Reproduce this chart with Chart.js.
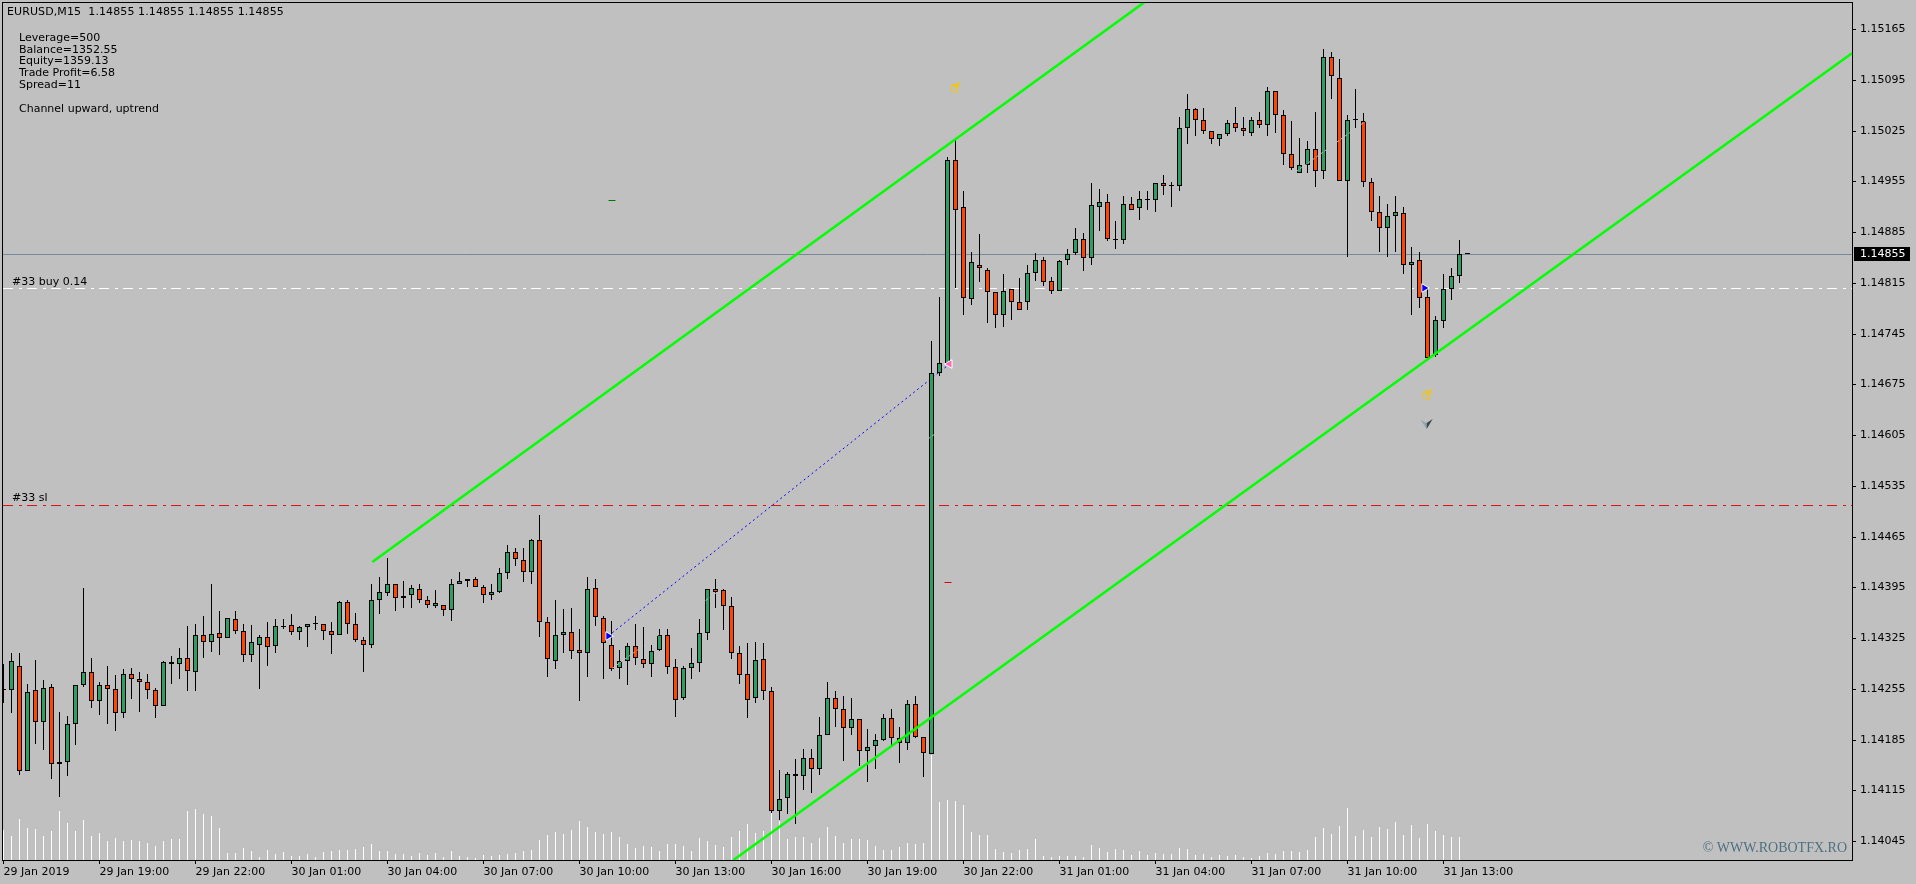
<!DOCTYPE html>
<html>
<head>
<meta charset="utf-8">
<title>EURUSD,M15</title>
<script src="https://cdn.jsdelivr.net/npm/chart.js@4"></script>
<style>
  html, body { margin: 0; padding: 0; background: #c0c0c0; overflow: hidden; }
  canvas { display: block; }
</style>
</head>
<body>
<canvas id="mt4" width="1916" height="884"></canvas>
<script>
// EURUSD M15 candles

const opens = [
1.14253,1.14253,1.14287,1.14142,1.14253,1.14209,1.14257,1.14151,1.14154,1.14207,
1.14260,1.14278,1.14238,1.14260,1.14254,1.14221,1.14275,1.14269,1.14264,1.14253,
1.14231,1.14292,1.14289,1.14297,1.14278,1.14329,1.14319,1.14332,1.14325,1.14351,
1.14334,1.14301,1.14315,1.14326,1.14314,1.14340,1.14343,1.14333,1.14340,1.14344,
1.14344,1.14334,1.14329,1.14374,1.14344,1.14322,1.14315,1.14377,1.14387,1.14399,
1.14380,1.14384,1.14392,1.14378,1.14369,1.14370,1.14363,1.14399,1.14403,1.14406,
1.14396,1.14384,1.14389,1.14414,1.14443,1.14432,1.14416,1.14460,1.14347,1.14293,
1.14329,1.14333,1.14309,1.14305,1.14394,1.14352,1.14316,1.14283,1.14293,1.14314,
1.14296,1.14289,1.14308,1.14329,1.14285,1.14242,1.14283,1.14290,1.14332,1.14392,
1.14391,1.14369,1.14304,1.14275,1.14242,1.14296,1.14252,1.14086,1.14105,1.14138,
1.14134,1.14159,1.14144,1.14191,1.14242,1.14227,1.14201,1.14213,1.14169,1.14176,
1.14185,1.14215,1.14187,1.14180,1.14234,1.14188,1.14165,1.14690,1.14704,1.14985,
1.14919,1.14792,1.14840,1.14832,1.14802,1.14771,1.14806,1.14788,1.14788,1.14828,
1.14847,1.14817,1.14803,1.14846,1.14856,1.14875,1.14849,1.14920,1.14927,1.14876,
1.14874,1.14923,1.14918,1.14931,1.14929,1.14952,1.14948,1.14948,1.15028,1.15054,
1.15039,1.15024,1.15013,1.15020,1.15035,1.15029,1.15022,1.15039,1.15032,1.15079,
1.15047,1.14992,1.14966,1.14978,1.14999,1.14969,1.15127,1.15098,1.14955,1.15039,
1.15038,1.14954,1.14912,1.14891,1.14907,1.14911,1.14839,1.14846,1.14796,1.14715,
1.14762,1.14807,1.14824,1.14855];

const highs = [
1.14289,1.14304,1.14304,1.14261,1.14294,1.14267,1.14261,1.14223,1.14218,1.14260,
1.14394,1.14298,1.14264,1.14286,1.14274,1.14282,1.14283,1.14278,1.14276,1.14256,
1.14293,1.14300,1.14311,1.14341,1.14344,1.14355,1.14399,1.14362,1.14352,1.14362,
1.14344,1.14343,1.14329,1.14347,1.14351,1.14351,1.14358,1.14341,1.14345,1.14355,
1.14345,1.14347,1.14376,1.14378,1.14360,1.14327,1.14399,1.14409,1.14435,1.14399,
1.14403,1.14398,1.14399,1.14383,1.14391,1.14370,1.14407,1.14416,1.14407,1.14409,
1.14398,1.14399,1.14421,1.14453,1.14449,1.14449,1.14461,1.14494,1.14354,1.14377,
1.14365,1.14366,1.14337,1.14409,1.14406,1.14355,1.14348,1.14309,1.14318,1.14344,
1.14340,1.14315,1.14337,1.14337,1.14296,1.14287,1.14311,1.14351,1.14392,1.14406,
1.14392,1.14381,1.14314,1.14318,1.14319,1.14318,1.14258,1.14143,1.14140,1.14158,
1.14172,1.14172,1.14216,1.14264,1.14252,1.14245,1.14242,1.14213,1.14199,1.14192,
1.14220,1.14227,1.14202,1.14239,1.14245,1.14189,1.14734,1.14796,1.14988,1.15014,
1.14941,1.14857,1.14882,1.14835,1.14802,1.14827,1.14807,1.14821,1.14839,1.14856,
1.14851,1.14823,1.14846,1.14861,1.14890,1.14883,1.14952,1.14944,1.14938,1.14900,
1.14934,1.14933,1.14941,1.14941,1.14952,1.14963,1.14954,1.15043,1.15076,1.15056,
1.15056,1.15025,1.15020,1.15039,1.15058,1.15043,1.15043,1.15050,1.15085,1.15079,
1.15053,1.15038,1.15014,1.15010,1.15050,1.15138,1.15134,1.15123,1.15047,1.15082,
1.15049,1.14959,1.14934,1.14923,1.14934,1.14920,1.14865,1.14857,1.14807,1.14769,
1.14827,1.14835,1.14874,1.14855];

const lows = [
1.14236,1.14222,1.14136,1.14142,1.14179,1.14171,1.14131,1.14106,1.14135,1.14178,
1.14258,1.14229,1.14219,1.14207,1.14197,1.14215,1.14241,1.14223,1.14241,1.14215,
1.14231,1.14262,1.14269,1.14252,1.14252,1.14297,1.14306,1.14301,1.14325,1.14330,
1.14292,1.14292,1.14254,1.14287,1.14304,1.14338,1.14329,1.14322,1.14312,1.14336,
1.14322,1.14303,1.14329,1.14330,1.14319,1.14278,1.14311,1.14358,1.14383,1.14362,
1.14366,1.14367,1.14373,1.14367,1.14367,1.14356,1.14349,1.14399,1.14395,1.14395,
1.14373,1.14378,1.14387,1.14406,1.14424,1.14402,1.14400,1.14327,1.14271,1.14282,
1.14304,1.14296,1.14238,1.14271,1.14341,1.14268,1.14280,1.14268,1.14260,1.14288,
1.14283,1.14271,1.14307,1.14275,1.14216,1.14239,1.14268,1.14278,1.14322,1.14367,
1.14336,1.14296,1.14261,1.14214,1.14236,1.14239,1.14083,1.14074,1.14082,1.14069,
1.14116,1.14111,1.14136,1.14191,1.14202,1.14155,1.14191,1.14148,1.14126,1.14145,
1.14183,1.14178,1.14152,1.14170,1.14187,1.14133,1.14165,1.14686,1.14703,1.14808,
1.14770,1.14784,1.14816,1.14759,1.14752,1.14754,1.14764,1.14777,1.14777,1.14817,
1.14810,1.14799,1.14803,1.14839,1.14853,1.14831,1.14839,1.14886,1.14872,1.14861,
1.14868,1.14915,1.14901,1.14916,1.14912,1.14936,1.14919,1.14941,1.15006,1.15017,
1.15020,1.15006,1.15003,1.15017,1.15023,1.15017,1.15017,1.15028,1.15017,1.15022,
1.14977,1.14970,1.14966,1.14967,1.14947,1.14958,1.15068,1.14955,1.14850,1.15028,
1.14947,1.14900,1.14858,1.14851,1.14858,1.14827,1.14770,1.14780,1.14711,1.14712,
1.14752,1.14791,1.14814,1.14855];

const closes = [
1.14253,1.14293,1.14142,1.14250,1.14209,1.14256,1.14151,1.14154,1.14207,1.14260,
1.14278,1.14238,1.14260,1.14254,1.14222,1.14275,1.14268,1.14265,1.14253,1.14231,
1.14292,1.14289,1.14297,1.14279,1.14329,1.14319,1.14330,1.14325,1.14352,1.14334,
1.14301,1.14319,1.14327,1.14312,1.14341,1.14341,1.14333,1.14340,1.14344,1.14344,
1.14334,1.14329,1.14374,1.14344,1.14322,1.14315,1.14377,1.14388,1.14399,1.14380,
1.14383,1.14394,1.14378,1.14370,1.14373,1.14363,1.14399,1.14403,1.14406,1.14396,
1.14384,1.14389,1.14414,1.14443,1.14434,1.14416,1.14460,1.14347,1.14296,1.14329,
1.14333,1.14307,1.14304,1.14392,1.14354,1.14318,1.14282,1.14293,1.14314,1.14298,
1.14289,1.14307,1.14329,1.14285,1.14240,1.14283,1.14290,1.14332,1.14392,1.14389,
1.14369,1.14305,1.14274,1.14239,1.14294,1.14252,1.14086,1.14103,1.14137,1.14134,
1.14159,1.14144,1.14191,1.14242,1.14227,1.14201,1.14213,1.14169,1.14174,1.14185,
1.14215,1.14187,1.14180,1.14234,1.14189,1.14166,1.14690,1.14704,1.14985,1.14916,
1.14794,1.14843,1.14835,1.14802,1.14771,1.14803,1.14788,1.14778,1.14828,1.14847,
1.14816,1.14803,1.14845,1.14854,1.14875,1.14849,1.14922,1.14927,1.14876,1.14874,
1.14923,1.14916,1.14930,1.14929,1.14952,1.14948,1.14948,1.15028,1.15054,1.15039,
1.15024,1.15013,1.15020,1.15035,1.15029,1.15024,1.15039,1.15032,1.15079,1.15046,
1.14992,1.14973,1.14977,1.14999,1.14969,1.15127,1.15100,1.14955,1.15039,1.15039,
1.14954,1.14912,1.14891,1.14907,1.14912,1.14839,1.14843,1.14794,1.14711,1.14763,
1.14807,1.14824,1.14854,1.14855];

const volumes = [
30,24,41,32,31,24,29,49,37,29,40,24,27,19,22,19,20,19,17,14,
19,21,21,49,51,46,44,32,7,7,12,9,3,10,6,8,4,4,6,3,
8,9,10,10,11,13,16,9,9,6,6,4,7,5,7,3,9,4,3,2,
5,4,5,6,7,9,10,20,25,28,26,30,39,33,28,26,28,23,16,12,
14,13,9,16,16,14,9,22,19,15,13,23,29,36,27,29,47,39,21,23,
23,17,22,33,24,17,21,21,20,14,10,10,13,17,16,17,105,58,60,59,
55,28,25,25,11,8,7,10,11,21,4,3,4,4,4,3,15,12,8,11,
10,5,9,5,7,6,6,12,11,5,6,3,5,4,5,3,2,4,7,6,
9,9,8,10,23,32,26,34,52,24,30,23,33,31,38,25,35,22,36,29,
25,23,23,0];

const timeTickBars = [0,12,24,36,48,60,72,84,96,108,120,132,144,156,168,180];
const timeLabels = ['29 Jan 2019','29 Jan 19:00','29 Jan 22:00','30 Jan 01:00','30 Jan 04:00','30 Jan 07:00',
  '30 Jan 10:00','30 Jan 13:00','30 Jan 16:00','30 Jan 19:00','30 Jan 22:00','31 Jan 01:00',
  '31 Jan 04:00','31 Jan 07:00','31 Jan 10:00','31 Jan 13:00'];
const priceTicks = [1.15165,1.15095,1.15025,1.14955,1.14885,1.14815,1.14745,1.14675,1.14605,
  1.14535,1.14465,1.14395,1.14325,1.14255,1.14185,1.14115,1.14045];

const bidPrice = 1.14855;
const buyPrice = 1.14808;
const slPrice = 1.14509;

// channel lines, [bar, price] ends
const upperChannelX = [46.1, 143], upperChannelY = [1.14430, 1.15205];
const lowerChannelX = [91.25, 231.1], lowerChannelY = [1.14019, 1.15132];
const midChannelX = [74.6, 174.6], midChannelY = [1.14271, 1.15073];
const tradeLineX = [75.6, 118.25], tradeLineY = [1.14328, 1.14703];

const infoLines = ['Leverage=500','Balance=1352.55','Equity=1359.13','Trade Profit=6.58','Spread=11'];

const BULL = '#2e9f64', BEAR = '#ff4500';
const UI_FONT = '11px "DejaVu Sans"';

// round every price to a whole pixel, like the terminal does
class PixelLinearScale extends Chart.LinearScale {
    getPixelForValue(value) {
        return Math.round(super.getPixelForValue(value));
    }
}
PixelLinearScale.id = 'pixellinear';
PixelLinearScale.defaults = Chart.LinearScale.defaults;
Chart.register(PixelLinearScale);

function hline(ctx, chart, price, color, dash) {
    const y = chart.scales.y.getPixelForValue(price) + 0.5;
    ctx.save();
    ctx.strokeStyle = color;
    ctx.lineWidth = 1;
    ctx.setLineDash(dash);
    ctx.beginPath();
    ctx.moveTo(3, y);
    ctx.lineTo(chart.chartArea.right, y);
    ctx.stroke();
    ctx.restore();
}

// the grey sell arrow, two shaded wings
function drawArrow(ctx, px, py) {
    ctx.fillStyle = '#8fa6ae';
    ctx.beginPath();
    ctx.moveTo(px - 6, py - 4);
    ctx.lineTo(px, py - 1);
    ctx.lineTo(px, py + 5);
    ctx.closePath();
    ctx.fill();
    ctx.fillStyle = '#39464f';
    ctx.beginPath();
    ctx.moveTo(px + 6, py - 5);
    ctx.lineTo(px, py - 1);
    ctx.lineTo(px, py + 5);
    ctx.closePath();
    ctx.fill();
}

const terminalPlugin = {
    id: 'terminal',
    beforeDatasetsDraw: function (chart) {
        const ctx = chart.ctx;
        hline(ctx, chart, bidPrice, '#778899', []);
        hline(ctx, chart, buyPrice, '#ffffff', [10, 6, 3, 5]);
        hline(ctx, chart, slPrice, '#dc1414', [10, 6, 3, 5]);
    },
    afterDatasetsDraw: function (chart) {
        const ctx = chart.ctx, x = chart.scales.x, y = chart.scales.y;
        ctx.save();
        // stop-level dashes
        ctx.fillStyle = '#007800';
        ctx.fillRect(x.getPixelForValue(76) - 3, y.getPixelForValue(1.14929), 7, 1);
        ctx.fillStyle = '#e00000';
        ctx.fillRect(x.getPixelForValue(118) - 3, y.getPixelForValue(1.14402), 7, 1);
        drawArrow(ctx, x.getPixelForValue(177.9), y.getPixelForValue(1.14620));
        // hands
        ctx.fillStyle = '#f7c600';
        ctx.strokeStyle = '#f7c600';
        ctx.lineWidth = 0.5;
        ctx.font = '15px "DejaVu Sans"';
        ctx.textAlign = 'center';
        ctx.textBaseline = 'middle';
        [[118.9, 1.15084], [177.9, 1.14660]].forEach(function (p) {
            ctx.save();
            ctx.translate(x.getPixelForValue(p[0]), y.getPixelForValue(p[1]));
            ctx.rotate(0.35);
            ctx.fillText('\u261D', 0, 0);
            ctx.strokeText('\u261D', 0, 0);
            ctx.restore();
        });
        ctx.restore();
    },
    afterDraw: function (chart) {
        const ctx = chart.ctx, y = chart.scales.y;
        ctx.save();
        // window frame
        ctx.strokeStyle = '#000';
        ctx.lineWidth = 1;
        ctx.strokeRect(2.5, 2.5, 1850, 858);

        ctx.font = UI_FONT;
        ctx.fillStyle = '#000';
        ctx.textAlign = 'left';
        ctx.textBaseline = 'middle';
        ctx.letterSpacing = '0.1px';
        ctx.fillText('EURUSD,M15  1.14855 1.14855 1.14855 1.14855', 7, 12);
        ctx.letterSpacing = '0px';
        infoLines.forEach(function (line, i) {
            ctx.fillText(line, 19, 38 + i * 11.8);
        });
        ctx.fillText('Channel upward, uptrend', 19, 109);
        ctx.fillText('#33 buy 0.14', 12, 282);
        ctx.fillText('#33 sl', 12, 498);

        // bid box on the price axis
        const by = y.getPixelForValue(bidPrice);
        ctx.fillStyle = '#000';
        ctx.fillRect(1854, by - 7, 56, 14);
        ctx.fillStyle = '#fff';
        ctx.fillText(bidPrice.toFixed(5), 1860, by + 0.5);

        ctx.font = '14px "Liberation Serif"';
        ctx.fillStyle = '#4f7080';
        ctx.textAlign = 'right';
        ctx.fillText('\u00A9 WWW.ROBOTFX.RO', 1847, 848);
        ctx.restore();
    }
};

const barIdx = opens.map(function (o, i) { return i; });

new Chart(document.getElementById('mt4'), {
    type: 'bar',
    data: {
        datasets: [
            { type: 'scatter', order: 0, pointStyle: 'triangle', pointRadius: 5, pointBorderWidth: 1,
              pointRotation: 90, pointBackgroundColor: '#0000ff', pointBorderColor: '#ffffff',
              data: [{ x: 75.6, y: 1.14328 }, { x: 177.6, y: 1.14808 }] },
            { type: 'scatter', order: 0, pointStyle: 'triangle', pointRadius: 5, pointBorderWidth: 1,
              pointRotation: -90, pointBackgroundColor: '#ff69b4', pointBorderColor: '#ffffff',
              data: [{ x: 118.25, y: 1.14703 }] },
            { type: 'line', order: 1, borderColor: '#00ff00', borderWidth: 2.5, pointRadius: 0,
              data: upperChannelX.map(function (v, i) { return { x: v, y: upperChannelY[i] }; }) },
            { type: 'line', order: 1, borderColor: '#00ff00', borderWidth: 2.5, pointRadius: 0,
              data: lowerChannelX.map(function (v, i) { return { x: v, y: lowerChannelY[i] }; }) },
            { type: 'line', order: 1, borderColor: '#c0c0c0', borderWidth: 1, borderDash: [3, 2], pointRadius: 0,
              data: midChannelX.map(function (v, i) { return { x: v, y: midChannelY[i] }; }) },
            { order: 3, barThickness: 5, borderWidth: 1, borderColor: '#000', borderSkipped: false,
              inflateAmount: 0, minBarLength: 1, clip: 1,
              backgroundColor: function (c) {
                  const i = c.dataIndex;
                  return closes[i] >= opens[i] ? BULL : BEAR;
              },
              data: barIdx.map(function (i) { return { x: i, y: [opens[i], closes[i]] }; }) },
            { order: 4, barThickness: 1, borderWidth: 0, backgroundColor: '#000', inflateAmount: 0, minBarLength: 1, clip: 1,
              data: barIdx.map(function (i) { return { x: i, y: [lows[i], highs[i]] }; }) },
            { type: 'line', order: 5, borderColor: '#0000ff', borderWidth: 1, borderDash: [2, 3], pointRadius: 0,
              data: tradeLineX.map(function (v, i) { return { x: v, y: tradeLineY[i] }; }) },
            { order: 6, yAxisID: 'vol', barThickness: 1, borderWidth: 0, backgroundColor: '#fff', inflateAmount: 0, clip: 1,
              data: barIdx.map(function (i) { return { x: i, y: volumes[i] }; }) }
        ]
    },
    options: {
        responsive: false,
        animation: false,
        events: [],
        datasets: { bar: { grouped: false } },
        layout: { autoPadding: false, padding: { left: 3.5, top: 3, right: 0, bottom: 0 } },
        plugins: { legend: { display: false }, tooltip: { enabled: false } },
        scales: {
            x: {
                type: 'linear', offset: false, min: 0, max: 231.0625,
                grid: { drawOnChartArea: false, drawTicks: true, tickLength: 4, color: '#000', offset: false },
                border: { display: false },
                afterBuildTicks: function (scale) {
                    scale.ticks = timeTickBars.map(function (v) { return { value: v }; });
                },
                afterFit: function (scale) {
                    scale.height = 24;
                    scale.paddingLeft = 0;
                    scale.paddingRight = 0;
                },
                ticks: {
                    autoSkip: false, maxRotation: 0, align: 'start', padding: 2,
                    color: '#000', font: { family: 'DejaVu Sans', size: 11 },
                    callback: function (v, i) { return timeLabels[i]; }
                }
            },
            y: {
                type: 'pixellinear', position: 'right', min: 1.140188, max: 1.152009,
                grid: { drawOnChartArea: false, drawTicks: true, tickLength: 4, color: '#000' },
                border: { display: false },
                afterBuildTicks: function (scale) {
                    scale.ticks = priceTicks.map(function (v) { return { value: v }; });
                },
                afterFit: function (scale) {
                    scale.width = 64;
                    scale.paddingTop = 0;
                    scale.paddingBottom = 0;
                },
                ticks: {
                    autoSkip: false, padding: 4, color: '#000',
                    font: { family: 'DejaVu Sans', size: 11 },
                    callback: function (v) { return v.toFixed(5); }
                }
            },
            vol: {
                type: 'pixellinear', display: false, min: 0, max: 857,
                afterFit: function (scale) { scale.paddingTop = 0; scale.paddingBottom = 0; }
            }
        }
    },
    plugins: [terminalPlugin]
});
</script>
</body>
</html>
